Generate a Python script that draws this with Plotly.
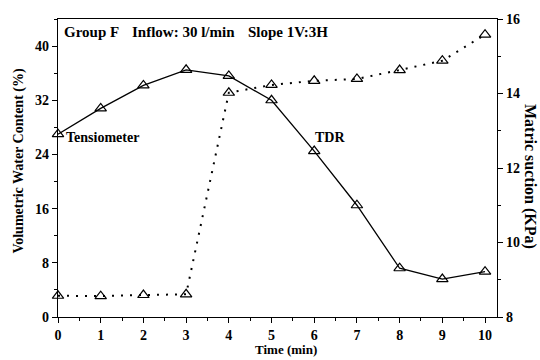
import plotly.graph_objects as go

# Elapsed time (min)
time_min = [0, 1, 2, 3, 4, 5, 6, 7, 8, 9, 10]
# TDR volumetric water content (%)
tdr_vwc = [27.0, 30.8, 34.2, 36.5, 35.6, 32.0, 24.5, 16.5, 7.2, 5.6, 6.7]
# Tensiometer matric suction (KPa)
tens_suction = [8.57, 8.56, 8.59, 8.61, 14.02, 14.23, 14.34, 14.39, 14.63, 14.88, 15.58]

FONT = "Liberation Serif"
tri = dict(symbol="triangle-up-open", size=10, color="black", line=dict(width=1.2, color="black"))

fig = go.Figure()
fig.add_trace(go.Scatter(
    x=time_min, y=tdr_vwc, mode="lines+markers", name="TDR",
    line=dict(color="black", width=1.3), marker=tri, yaxis="y", cliponaxis=False))
fig.add_trace(go.Scatter(
    x=time_min, y=tens_suction, mode="lines+markers", name="Tensiometer",
    line=dict(color="black", width=2, dash="2px,7px"), marker=tri, yaxis="y2", cliponaxis=False))

tickfont = dict(family=FONT, size=14, color="black", weight="bold")

common = dict(ticks="outside", ticklen=5, tickwidth=1.3, tickcolor="black",
              showline=True, linecolor="black", linewidth=1.3,
              showgrid=False, zeroline=False, tickfont=tickfont)
minor_common = dict(ticks="outside", ticklen=3, tickcolor="black", tickwidth=1)

fig.update_layout(
    width=540, height=360,
    margin=dict(l=58, r=43, t=16, b=43),
    paper_bgcolor="white", plot_bgcolor="white",
    showlegend=False,
    font=dict(family=FONT, color="black"),
    xaxis=dict(
        range=[0, 10.28], tickvals=list(range(0, 11)), mirror=True,
        minor=dict(dtick=0.5, tick0=0, **minor_common), **common),
    yaxis=dict(
        range=[0, 44], tickvals=[0, 8, 16, 24, 32, 40],
        minor=dict(dtick=4, tick0=0, **minor_common), **common),
    yaxis2=dict(
        range=[8, 16], tickvals=[8, 10, 12, 14, 16], overlaying="y", side="right",
        minor=dict(dtick=1, tick0=8, **minor_common), **common),
)

# Axis titles (right one reads top-to-bottom)
fig.add_annotation(text="Time (min)", xref="paper", yref="paper",
                   x=0.52, y=-0.142, showarrow=False, xanchor="center", yanchor="bottom",
                   font=dict(family=FONT, size=13, color="black", weight="bold"))
fig.add_annotation(text="Volumetric Water Content (%)", xref="paper", yref="paper",
                   x=-0.091, y=0.525, textangle=-90, showarrow=False,
                   xanchor="center", yanchor="middle",
                   font=dict(family=FONT, size=14, color="black", weight="bold"))
fig.add_annotation(text="Matric suction (KPa)", xref="paper", yref="paper",
                   x=1.075, y=0.47, textangle=90, showarrow=False,
                   xanchor="center", yanchor="middle",
                   font=dict(family=FONT, size=16, color="black", weight="bold"))

ann_font = dict(family=FONT, size=15, color="black", weight="bold")
header = [("Group F", 0.009), ("Inflow: 30 l/min", 0.164), ("Slope 1V:3H", 0.428)]
for txt, xp in header:
    fig.add_annotation(text=txt, xref="paper", yref="paper", x=xp, y=0.958,
                       xanchor="left", yanchor="middle", showarrow=False, font=ann_font)

lab_font = dict(family=FONT, size=14, color="black", weight="bold")
fig.add_annotation(text="Tensiometer", xref="x", yref="y", x=0.15, y=26.5,
                   xanchor="left", yanchor="middle", showarrow=False, font=lab_font)
fig.add_annotation(text="TDR", xref="x", yref="y", x=5.98, y=26.5,
                   xanchor="left", yanchor="middle", showarrow=False, font=lab_font)

fig.write_html("out.html")
